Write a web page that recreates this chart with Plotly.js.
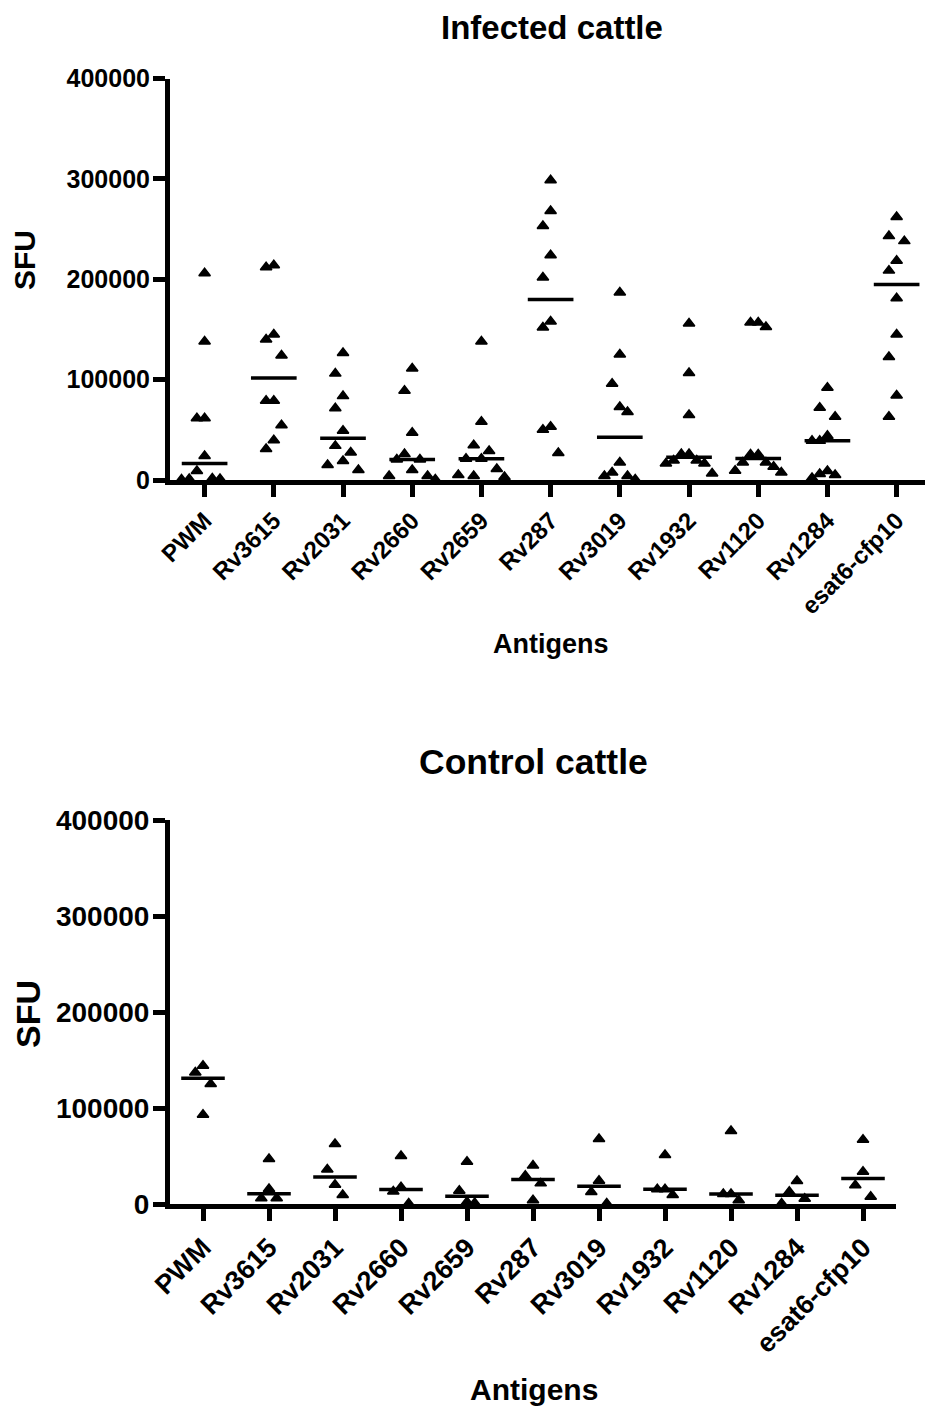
<!DOCTYPE html>
<html>
<head>
<meta charset="utf-8">
<script src="https://cdn.plot.ly/plotly-3.0.1.min.js"></script>
<style>html,body{margin:0;padding:0;background:#fff;}#chart{width:925px;height:1407px;}</style>
</head>
<body>
<div id="chart"></div>
<script>
// ---- data ----
const categories = ['PWM','Rv3615','Rv2031','Rv2660','Rv2659','Rv287','Rv3019','Rv1932','Rv1120','Rv1284','esat6-cfp10'];
const yTicks = [0, 100000, 200000, 300000, 400000];

const infectedPWM    = [206000, 138000, 61500, 61500, 24000, 9000, 1500, 1000, 1000, 500];
const infectedRv3615 = [214000, 212000, 145000, 140000, 124000, 79000, 79000, 54500, 39700, 30800];
const infectedRv2031 = [126600, 106000, 83600, 71400, 49000, 34000, 27400, 19000, 15000, 10000];
const infectedRv2660 = [111000, 89000, 47000, 25800, 20500, 20500, 10000, 4000, 4000, 500];
const infectedRv2659 = [138000, 58000, 34700, 29000, 21200, 21200, 11000, 5000, 4000, 3000];
const infectedRv287  = [298600, 268000, 253000, 224000, 201700, 158000, 152000, 53000, 50000, 27000];
const infectedRv3019 = [186800, 125000, 96000, 72700, 67800, 17500, 7500, 4000, 4000, 500];
const infectedRv1932 = [156000, 106700, 64800, 25800, 25800, 19500, 19500, 16500, 16500, 6500];
const infectedRv1120 = [157000, 157000, 152400, 25500, 25500, 17500, 17500, 13200, 9200, 7500];
const infectedRv1284 = [91900, 72000, 63000, 44000, 39000, 39000, 9000, 6000, 5000, 2000];
const infectedEsat6  = [262000, 243000, 238000, 218500, 208600, 181000, 145000, 122600, 84300, 63000];

const controlPWM    = [144000, 137000, 125000, 93000];
const controlRv3615 = [47000, 15600, 6000, 6000];
const controlRv2031 = [62500, 36000, 20000, 9400];
const controlRv2660 = [50000, 17400, 13000, 500];
const controlRv2659 = [44000, 13900, 2000, 1000];
const controlRv287  = [40000, 29500, 21500, 4000];
const controlRv3019 = [67700, 24300, 12500, 500];
const controlRv1932 = [51000, 15300, 15300, 9400];
const controlRv1120 = [76000, 10500, 10500, 4000];
const controlRv1284 = [24000, 12800, 5500, 500];
const controlEsat6  = [67000, 33700, 19500, 7600];

const infectedGroups = [infectedPWM, infectedRv3615, infectedRv2031, infectedRv2660, infectedRv2659, infectedRv287, infectedRv3019, infectedRv1932, infectedRv1120, infectedRv1284, infectedEsat6];
const controlGroups  = [controlPWM, controlRv3615, controlRv2031, controlRv2660, controlRv2659, controlRv287, controlRv3019, controlRv1932, controlRv1120, controlRv1284, controlEsat6];

// ---- helpers ----
function median(a){
  const s = a.slice().sort((p,q)=>p-q); const n = s.length;
  return n % 2 ? s[(n-1)/2] : (s[n/2-1] + s[n/2]) / 2;
}
// simple beeswarm: points closer than minGap pixels vertically share no slot
function swarm(vals, pxPerValue, slotCat, minGap){
  const order = vals.map((v,i)=>i).sort((a,b)=>vals[b]-vals[a]);
  const slots = new Array(vals.length); const placed = [];
  order.forEach(i=>{
    for (let s=0; s<20; s++){
      const k = s===0 ? 0 : (s%2 ? -Math.ceil(s/2) : s/2);
      const clash = placed.some(p=>p.k===k && Math.abs(p.v-vals[i])*pxPerValue < minGap);
      if (!clash){ slots[i]=k; placed.push({k:k, v:vals[i]}); break; }
    }
  });
  return slots.map(k=>k*slotCat);
}
function buildTraces(groups, xa, ya, pxPerValue, pxPerCat){
  const xs=[], ys=[], mx=[], my=[];
  groups.forEach((vals, ci)=>{
    const offs = swarm(vals, pxPerValue, 7.7/pxPerCat, 30);
    vals.forEach((v,j)=>{ xs.push(ci+offs[j]); ys.push(v); });
    const m = median(vals);
    mx.push(ci-0.33, ci+0.33, null); my.push(m, m, null);
  });
  return [
    {type:'scatter', mode:'lines', x:mx, y:my, xaxis:xa, yaxis:ya, line:{color:'#000', width:3.5}, hoverinfo:'skip', cliponaxis:false},
    {type:'scatter', mode:'markers', x:xs, y:ys, xaxis:xa, yaxis:ya, cliponaxis:false,
     marker:{symbol:'triangle-up', size:10, color:'#000', line:{color:'#000', width:1.5}}}
  ];
}

const W=925, H=1407;
const font = {family:'Liberation Sans, Arial, sans-serif', color:'#000', weight:'bold'};
const fnt = s => Object.assign({}, font, {size:s});

const data = [].concat(
  buildTraces(infectedGroups, 'x', 'y', (480-78.5)/400000, 69.2),
  buildTraces(controlGroups, 'x2', 'y2', (1204-820)/400000, 66)
);

function xAxis(domain, range, anchor, fs){
  return {domain:domain, range:range, anchor:anchor, tickvals:categories.map((c,i)=>i), ticktext:categories,
    tickangle:-45, showgrid:false, zeroline:false, showline:true, linewidth:5, linecolor:'#000',
    ticks:'outside', ticklen:12, tickwidth:5, tickcolor:'#000', tickfont:fnt(fs), fixedrange:true};
}
function yAxis(domain, anchor, fs){
  return {domain:domain, range:[0,400000], anchor:anchor, tickvals:yTicks, tickformat:'d',
    showgrid:false, zeroline:false, showline:true, linewidth:5, linecolor:'#000',
    ticks:'outside', ticklen:12, tickwidth:5, tickcolor:'#000', tickfont:fnt(fs), ticklabelstandoff:-2, fixedrange:true};
}
function ann(text, px, py, size, angle){
  return {text:text, x:px/W, y:1-py/H, xref:'paper', yref:'paper', xanchor:'center', yanchor:'middle',
    showarrow:false, textangle:angle||0, font:fnt(size)};
}

const layout = {
  width:W, height:H, margin:{l:0, r:0, t:0, b:0}, showlegend:false,
  paper_bgcolor:'#fff', plot_bgcolor:'#fff',
  xaxis: xAxis([170/W, 1], [-0.5, 10.41], 'y', 24),
  yaxis: yAxis([1-480/H, 1-78.5/H], 'x', 25),
  xaxis2: xAxis([170/W, 896/W], [-0.5, 10.5], 'y2', 27),
  yaxis2: yAxis([1-1204/H, 1-820/H], 'x2', 28),
  annotations: [
    ann('Infected cattle', 552, 27, 33),
    ann('Antigens', 551, 644, 27),
    ann('SFU', 24, 260, 30, -90),
    ann('Control cattle', 533, 762, 35.5),
    ann('Antigens', 534, 1389, 30),
    ann('SFU', 28, 1014, 34, -90)
  ]
};

Plotly.newPlot('chart', data, layout, {displayModeBar:false, staticPlot:true});
</script>
</body>
</html>
